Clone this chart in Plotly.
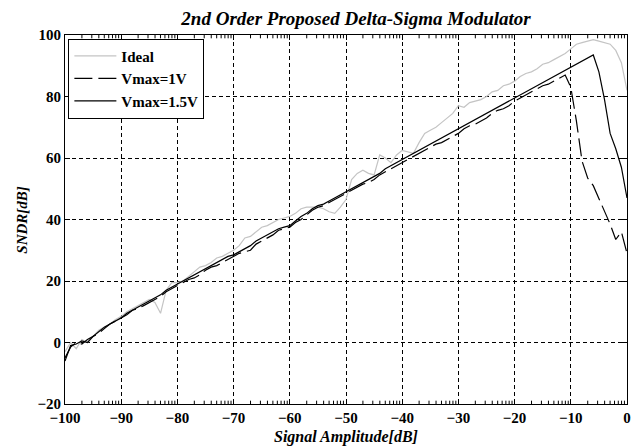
import math
import plotly.graph_objects as go

amp = list(range(-100, 1))  # Signal amplitude [dB]

ideal = [-3, 0, -2, 1, 0, 2, 4, 5, 6, 7.5,
         8.5, 10, 11, 12, 13, 14, 13, 9.5, 17, 19.5,
         19.5, 20, 21.5, 23, 24.5, 25, 26, 27.5, 28, 29,
         30, 31.5, 34, 34.5, 36, 37.5, 38, 39, 40, 40.5,
         41, 42, 43.5, 44, 44, 44, 43.5, 42.5, 42, 44,
         46.5, 53, 55, 56, 55, 54.5, 61, 60, 58.5, 61,
         62.5, 62, 61.5, 65, 68, 69, 70, 71.5, 73, 74.5,
         77, 76.5, 78, 78.5, 79, 80, 81.5, 82, 83.5, 84,
         85, 86.5, 87.5, 88, 89, 90.5, 91, 92, 93, 94,
         95.5, 97, 97.5, 98, 98.5, 98, 97.5, 97, 95, 91,
         82]

v1 = [-5, -1.5, 0, -0.5, 1, 2, 3, 4.5, 6, 7,
      8, 9, 10.5, 11, 12, 13, 14, 15, 16.5, 17.5,
      18.5, 19.5, 20.5, 21, 22, 23.5, 24.5, 25, 26, 27,
      28, 29, 29.5, 30, 32, 33, 34, 35, 36.5, 37,
      37.5, 39, 40, 41.5, 43, 44, 44.5, 45.5, 46.5, 47.5,
      48.5, 49.5, 50.5, 51.5, 52, 53, 54.5, 55.5, 56.5, 57.5,
      58.5, 59.5, 60.5, 61.5, 62.5, 63.5, 64.5, 65, 66, 67,
      68, 69.5, 70.5, 71, 72, 73, 74.5, 75.5, 76, 77,
      78.5, 79.5, 80.5, 81.5, 82.5, 83.5, 84, 85, 86, 87,
      83, 72, 59, 53.5, 51, 47, 42.5, 38.5, 33.5, 36,
      29]

v15 = [-6, -1, -0.5, 0.5, 0, 2, 3.5, 5, 6, 7,
       8, 9.5, 10.5, 11.5, 12.5, 13.5, 14.5, 15.5, 17, 18,
       19, 20, 21, 22, 23, 24, 25, 26, 27, 28,
       28.5, 29.5, 30.5, 31.5, 33, 34, 35, 36, 37, 37.5,
       38, 39.5, 41, 42, 43.5, 44.5, 45, 46, 47, 48,
       49, 50, 51, 52, 53, 54, 55, 56.5, 57.5, 58.5,
       59.5, 60.5, 61.5, 62.5, 63.5, 64.5, 65.5, 66.5, 67.5, 68.5,
       69.5, 70.5, 71.5, 72.5, 73.5, 74.5, 75.5, 76.5, 77.5, 78.5,
       79.5, 80.5, 81.5, 82.5, 83.5, 84.5, 85.5, 86.5, 87.5, 88.5,
       89.5, 90.5, 91.5, 92.5, 93.5, 88, 79, 68, 63, 57,
       47]

x_ticks = [-100, -90, -80, -70, -60, -50, -40, -30, -20, -10, 0]
y_ticks = [-20, 0, 20, 40, 60, 80, 100]

SERIF = "Liberation Serif"

fig = go.Figure()
fig.add_trace(go.Scatter(x=amp, y=ideal, mode="lines", name="Ideal",
                         legendgroup="a",
                         line=dict(color="#c4c4c4", width=1.2)))
fig.add_trace(go.Scatter(x=amp, y=v1, mode="lines", name="Vmax=1V",
                         legendgroup="b",
                         line=dict(color="black", width=1.2, dash="18px,6px")))
fig.add_trace(go.Scatter(x=amp, y=v15, mode="lines", name="Vmax=1.5V",
                         legendgroup="c",
                         line=dict(color="black", width=1.2)))

# log-style minor ticks on top and bottom axes
shapes = []
for d in x_ticks[:-1]:
    for k in range(2, 10):
        xv = d + 10 * math.log10(k)
        shapes.append(dict(type="line", xref="x", yref="paper", x0=xv, x1=xv,
                           y0=0, y1=0.009, line=dict(color="black", width=1)))
        shapes.append(dict(type="line", xref="x", yref="paper", x0=xv, x1=xv,
                           y0=1, y1=0.991, line=dict(color="black", width=1)))

axis_common = dict(
    showline=True, linecolor="black", linewidth=1, mirror="ticks",
    ticks="inside", ticklen=5, tickcolor="black",
    showgrid=True, gridcolor="black", gridwidth=1, griddash="4px,3px",
    zeroline=False,
    tickfont=dict(family=SERIF, size=15, color="black", weight="bold"),
)

# the page body adds an 8px offset, so the figure is drawn 8px smaller
fig.update_layout(
    width=634, height=439,
    margin=dict(l=57, r=11, t=27, b=43),
    paper_bgcolor="white", plot_bgcolor="white",
    title=dict(text="2nd Order Proposed Delta-Sigma Modulator",
               x=0.549, xanchor="center", y=0.977, yanchor="middle",
               font=dict(family=SERIF, size=19, color="black",
                         weight="bold", style="italic")),
    xaxis=dict(range=[-100, 0], tickvals=x_ticks, ticklabelstandoff=0,
               **axis_common),
    yaxis=dict(range=[-20, 100], tickvals=y_ticks,
               **axis_common),
    annotations=[
        dict(text="Signal Amplitude[dB]", xref="paper", yref="paper",
             x=0.5, y=-0.0894, xanchor="center", yanchor="middle",
             showarrow=False,
             font=dict(family=SERIF, size=16, color="black",
                       weight="bold", style="italic")),
        dict(text="SNDR[dB]", xref="paper", yref="paper",
             x=-0.078, y=0.5, xanchor="center", yanchor="middle",
             textangle=-90, showarrow=False,
             font=dict(family=SERIF, size=15, color="black",
                       weight="bold", style="italic")),
    ],
    legend=dict(x=0.006, y=0.99, xanchor="left", yanchor="top",
                bgcolor="white", bordercolor="black", borderwidth=1,
                font=dict(family=SERIF, size=15, color="black", weight="bold"),
                tracegroupgap=0, itemwidth=42),
    shapes=shapes,
    showlegend=True,
)

fig.write_html("out.html")
